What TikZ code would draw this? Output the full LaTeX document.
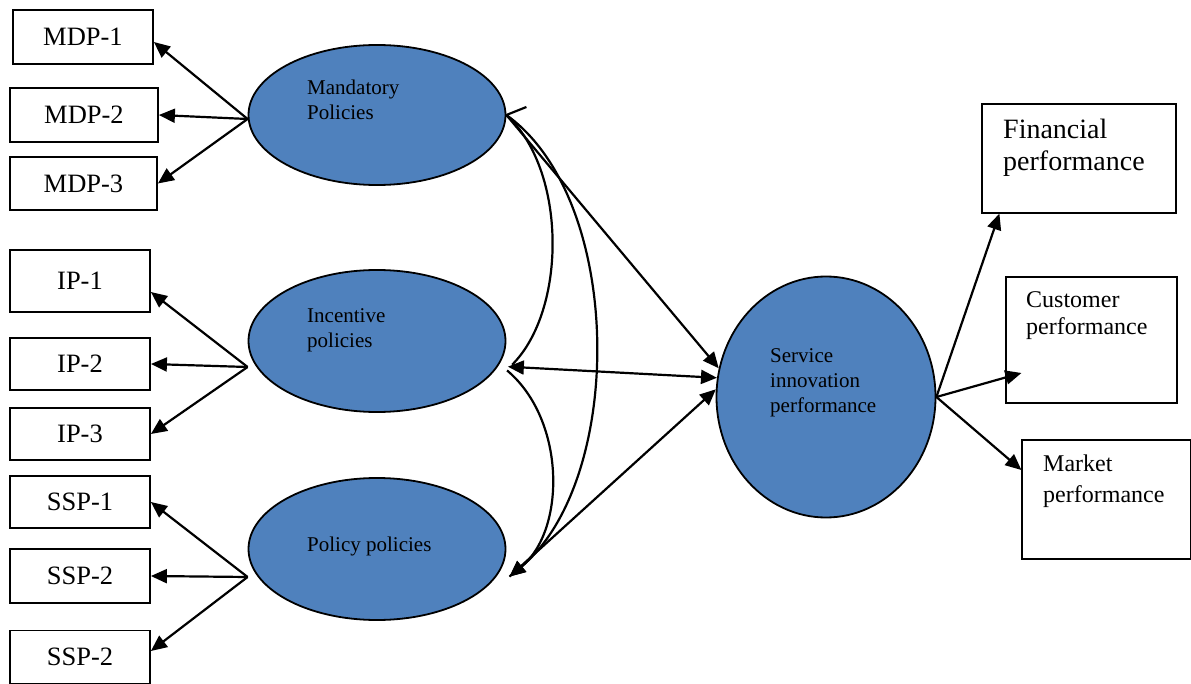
\documentclass[tikz,border=0pt]{standalone}
\usepackage{fontspec}
\setmainfont{Liberation Serif}
\usetikzlibrary{shapes.geometric,arrows.meta}
\definecolor{ellblue}{HTML}{4F81BD}
\tikzset{
  lbox/.style={draw,line width=1.8pt,minimum width=140pt,minimum height=53pt,inner sep=0pt,font=\fontsize{26.5}{30}\selectfont},
  rbox/.style={draw,line width=1.2pt,inner sep=0pt},
  ell/.style={ellipse,draw,fill=ellblue,line width=1.8pt,inner sep=0pt},
  etext/.style={align=left,anchor=west,font=\fontsize{21}{25}\selectfont,inner sep=0pt},
  rtext/.style={align=left,anchor=west,inner sep=0pt},
  conn/.style={line width=2.2pt},
  arr/.style={line width=2.2pt,-{Triangle[length=16pt,width=14pt]}},
  darr/.style={line width=2.2pt,{Triangle[length=16pt,width=14pt]}-{Triangle[length=16pt,width=14pt]}},
}
\begin{document}
\begin{tikzpicture}[x=1pt,y=-1pt]
\useasboundingbox (0,0) rectangle (1191,684);
% left boxes
\node[lbox,minimum width=140pt,minimum height=54pt] (m1) at (83,37) {MDP-1};
\node[lbox,minimum width=148pt,minimum height=54pt] (m2) at (84,115) {MDP-2};
\node[lbox,minimum width=147pt,minimum height=53pt] (m3) at (83.5,183.5) {MDP-3};
\node[lbox,minimum height=62pt] (i1) at (80,281) {IP-1};
\node[lbox,minimum height=52pt] (i2) at (80,364) {IP-2};
\node[lbox,minimum height=52pt] (i3) at (80,434) {IP-3};
\node[lbox,minimum height=52pt] (s1) at (80,502) {SSP-1};
\node[lbox,minimum height=54pt] (s2) at (80,576) {SSP-2};
\node[lbox,minimum height=53pt] (s3) at (80,657) {SSP-2};
% ellipses
\node[ell,minimum width=257pt,minimum height=140pt] (mp) at (377,115) {};
\node[ell,minimum width=257pt,minimum height=142pt] (ip) at (377,341) {};
\node[ell,minimum width=257pt,minimum height=142pt] (pp) at (377,549) {};
\node[ell,minimum width=219pt,minimum height=241pt] (svc) at (826,397) {};
\node[etext] (mpt) at (307,100) {Mandatory\\Policies};
\node[etext] (ipt) at (307,330.5) {Incentive\\policies};
\node[etext] (ppt) at (307,546) {Policy policies};
\node[etext] (svct) at (770,383) {Service\\innovation\\performance};
% right boxes
\node[rbox,minimum width=194pt,minimum height=109pt] (fin) at (1079,158.5) {};
\node[rbox,minimum width=171pt,minimum height=126pt] (cust) at (1091.5,340) {};
\node[rbox,minimum width=169pt,minimum height=119pt] (mkt) at (1106.5,499.5) {};
\node[rtext,font=\fontsize{28}{32}\selectfont] (fint) at (1003,148) {Financial\\performance};
\node[rtext,font=\fontsize{24}{27}\selectfont] (custt) at (1026,315.5) {Customer\\performance};
\node[rtext,font=\fontsize{24}{31}\selectfont] (mktt) at (1043,481.5) {Market\\performance};
% left arrows
\draw[arr] ([yshift=-4pt]mp.west) -- ([yshift=-5pt]m1.east);
\draw[arr] ([yshift=-4pt]mp.west) -- (m2.east);
\draw[arr] ([yshift=-4pt]mp.west) -- (m3.east);
\draw[arr] ([yshift=-26pt]ip.west) -- ([yshift=-11pt]i1.east);
\draw[arr] ([yshift=-26pt]ip.west) -- (i2.east);
\draw[arr] ([yshift=-26pt]ip.west) -- (i3.east);
\draw[arr] ([yshift=-28pt]pp.west) -- (s1.east);
\draw[arr] ([yshift=-28pt]pp.west) -- (s2.east);
\draw[arr] ([yshift=-28pt]pp.west) -- ([yshift=6pt]s3.east);
% right arrows
\draw[arr] (svc.east) -- ([xshift=18pt]fin.south west);
\draw[arr] (svc.east) -- ([xshift=16pt,yshift=-33pt]cust.west);
\draw[arr] (svc.east) -- ([yshift=29.5pt]mkt.west);
% middle connections
\draw[conn] (mp.east) -- ++(20,-8);
\draw[arr] (mp.east) -- (svc.165);
\draw[darr] ([xshift=10pt]ip.-12) -- (svc.170);
\draw[arr] ([xshift=13pt]pp.-13) -- (svc.176);
\draw[conn] (mp.east) .. controls (567,170) and (567,310) .. ([xshift=13pt]ip.-11);
\draw[arr] ([xshift=12pt]ip.-14) .. controls (566,420) and (566,530) .. ([xshift=13pt]pp.-13);
\draw[arr] (mp.east) .. controls (625,200) and (625,480) .. ([xshift=13pt]pp.-13);
\end{tikzpicture}
\end{document}
